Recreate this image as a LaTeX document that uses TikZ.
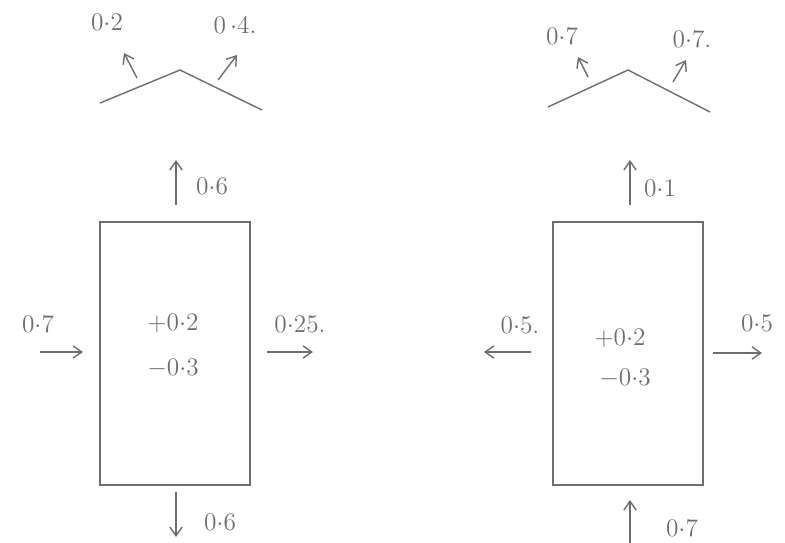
\documentclass[tikz,border=0pt]{standalone}
\usepackage{tikz}
\usetikzlibrary{arrows.meta, positioning}
\definecolor{cPEN}{HTML}{6E6E6E}

\begin{document}
\begin{tikzpicture}[
  x=0.02cm, y=-0.02cm,
  >={Straight Barb[length=5pt, width=7pt]},
  pen/.style={draw=cPEN, line width=0.8pt},
  cell/.style={pen, rectangle, minimum width=3cm, minimum height=5.26cm, inner sep=0pt},
  lbl/.style={font=\Large, text=cPEN, inner sep=1pt}
]
\useasboundingbox (0,0) rectangle (785,542);

% left cell
\node[cell] (boxL) at (175,353.5) {};
\node[lbl] (inL) at (173,323) {$+0{\cdot}2$};
\node[lbl] (outL) at (173,368) {$-0{\cdot}3$};
\coordinate (tL1) at (100,103);
\coordinate (tL2) at (180,70);
\coordinate (tL3) at (262,110);
\draw[pen] (tL1) -- (tL2) -- (tL3);
\coordinate (aL1s) at (137,78); \coordinate (aL1e) at (124,53);
\coordinate (aL2s) at (218,80); \coordinate (aL2e) at (237,55);
\draw[pen, ->] (aL1s) -- (aL1e);
\draw[pen, ->] (aL2s) -- (aL2e);
\node[lbl] (lL1) at (107,22) {$0{\cdot}2$};
\node[lbl] (lL2) at (235,25) {$0\,{\cdot}4.$};
\coordinate (upLs) at (176,205); \coordinate (upLe) at (176,160);
\draw[pen, ->] (upLs) -- (upLe);
\node[lbl] (lUpL) at (212,186) {$0{\cdot}6$};
\coordinate (inLs) at (40,352); \coordinate (inLe) at (83,352);
\draw[pen, ->] (inLs) -- (inLe);
\node[lbl] (lInL) at (38,324) {$0{\cdot}7$};
\coordinate (exLs) at (267,352); \coordinate (exLe) at (313,352);
\draw[pen, ->] (exLs) -- (exLe);
\node[lbl] (lExL) at (300,324) {$0{\cdot}25.$};
\coordinate (dnLs) at (176,492); \coordinate (dnLe) at (176,537);
\draw[pen, ->] (dnLs) -- (dnLe);
\node[lbl] (lDnL) at (220,522) {$0{\cdot}6$};

% right cell
\node[cell] (boxR) at (628,353.5) {};
\node[lbl] (inR) at (620,338) {$+0{\cdot}2$};
\node[lbl] (outR) at (625,378) {$-0{\cdot}3$};
\coordinate (tR1) at (548,107);
\coordinate (tR2) at (628,70);
\coordinate (tR3) at (710,112);
\draw[pen] (tR1) -- (tR2) -- (tR3);
\coordinate (aR1s) at (588,77); \coordinate (aR1e) at (578,57);
\coordinate (aR2s) at (673,82); \coordinate (aR2e) at (686,60);
\draw[pen, ->] (aR1s) -- (aR1e);
\draw[pen, ->] (aR2s) -- (aR2e);
\node[lbl] (lR1) at (562,36) {$0{\cdot}7$};
\node[lbl] (lR2) at (692,39) {$0{\cdot}7.$};
\coordinate (upRs) at (630,205); \coordinate (upRe) at (630,160);
\draw[pen, ->] (upRs) -- (upRe);
\node[lbl] (lUpR) at (660,188) {$0{\cdot}1$};
\coordinate (exR1s) at (531,352); \coordinate (exR1e) at (484,352);
\draw[pen, ->] (exR1s) -- (exR1e);
\node[lbl] (lExR1) at (520,325) {$0{\cdot}5.$};
\coordinate (exR2s) at (713,353); \coordinate (exR2e) at (762,353);
\draw[pen, ->] (exR2s) -- (exR2e);
\node[lbl] (lExR2) at (757,323) {$0{\cdot}5$};
\coordinate (dnRs) at (630,545); \coordinate (dnRe) at (630,500);
\draw[pen, ->] (dnRs) -- (dnRe);
\node[lbl] (lDnR) at (682,528) {$0{\cdot}7$};
\end{tikzpicture}
\end{document}
